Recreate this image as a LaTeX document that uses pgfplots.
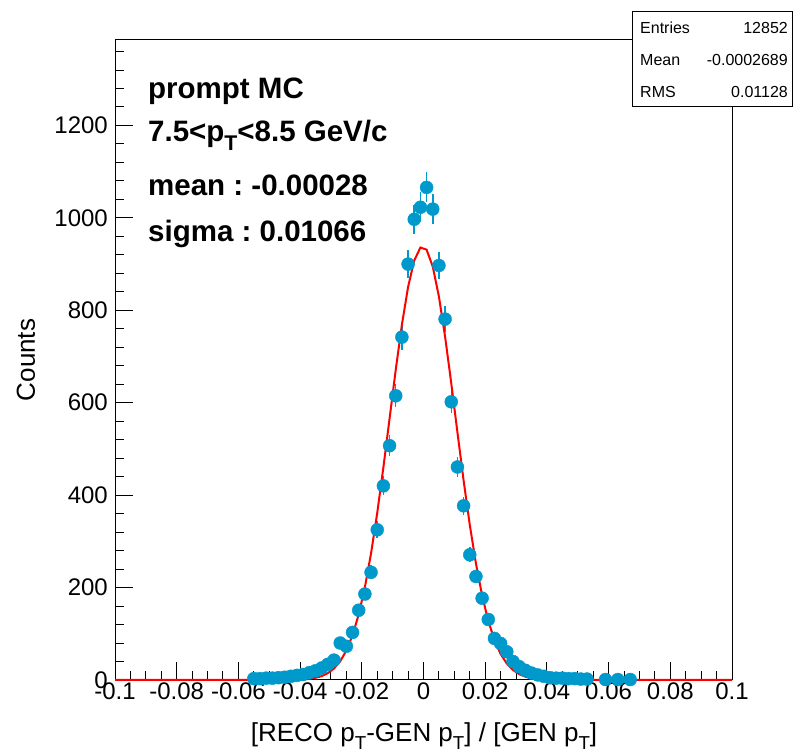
\documentclass[border=0pt]{standalone}
\usepackage{pgfplots}
\pgfplotsset{compat=1.18}
\usepackage{fontspec}
\setmainfont{Liberation Sans}
\definecolor{rootblue}{RGB}{0,153,204}
\newcommand{\subT}{\raisebox{-0.3em}{\scalebox{0.72}{T}}}
\frenchspacing

\pgfplotstableread{
x y err
-0.055 3 1.7
-0.053 3 1.7
-0.051 4 2.0
-0.049 4 2.0
-0.047 5 2.2
-0.045 6 2.4
-0.043 8 2.8
-0.041 10 3.2
-0.039 12 3.5
-0.037 16 4.0
-0.035 20 4.5
-0.033 26 5.1
-0.031 34 5.8
-0.029 43 6.6
-0.027 80 8.9
-0.025 73 8.5
-0.023 103 10.1
-0.021 151 12.3
-0.019 186 13.6
-0.017 233 15.3
-0.015 325 18.0
-0.013 420 20.5
-0.011 507 22.5
-0.009 615 24.8
-0.007 742 27.2
-0.005 900 30.0
-0.003 997 31.6
-0.001 1023 32.0
0.001 1066 32.6
0.003 1019 31.9
0.005 897 29.9
0.007 781 27.9
0.009 602 24.5
0.011 461 21.5
0.013 377 19.4
0.015 271 16.5
0.017 224 15.0
0.019 177 13.3
0.021 131 11.4
0.023 90 9.5
0.025 79 8.9
0.027 61 7.8
0.029 40 6.3
0.031 29 5.4
0.033 21 4.6
0.035 15 3.9
0.037 11 3.3
0.039 8 2.8
0.041 5 2.2
0.043 4 2.0
0.045 4 2.0
0.047 3 1.7
0.049 3 1.7
0.051 2 1.4
0.053 2 1.4
0.059 1 1.0
0.063 1 1.0
0.067 1 1.0
}\histdata

\pgfplotstableread{
x y
-0.100 0
-0.049 0
-0.047 0.03
-0.045 0.1
-0.043 0.3
-0.041 0.6
-0.039 1.3
-0.037 2.5
-0.035 4.7
-0.033 8.4
-0.031 14.8
-0.029 24.9
-0.027 40.5
-0.025 63.7
-0.023 96.8
-0.021 141.9
-0.019 200.7
-0.017 274.2
-0.015 361.5
-0.013 460.3
-0.011 565.7
-0.009 671.3
-0.007 769.0
-0.005 850.4
-0.003 907.9
-0.001 935.9
0.001 931.3
0.003 894.6
0.005 829.7
0.007 742.9
0.009 642.2
0.011 535.9
0.013 431.7
0.015 335.8
0.017 252.1
0.019 182.8
0.021 127.9
0.023 86.4
0.025 56.4
0.027 35.5
0.029 21.6
0.031 12.7
0.033 7.2
0.035 3.9
0.037 2.1
0.039 1.1
0.041 0.5
0.043 0.25
0.045 0.1
0.047 0.03
0.049 0
0.100 0
}\fitdata

\begin{document}
\begin{tikzpicture}[x=1pt,y=1pt]
\useasboundingbox (0,0) rectangle (793,751);
\begin{axis}[
  at={(115pt,71pt)}, anchor=south west,
  scale only axis, width=617pt, height=640pt,
  xmin=-0.1, xmax=0.1, ymin=0, ymax=1385,
  clip=false,
  axis line style={line width=1pt, black},
  tick align=inside, tick pos=left,
  major tick length=18pt, minor tick length=9pt,
  every tick/.style={black, line width=1pt},
  xtick={-0.1,-0.08,-0.06,-0.04,-0.02,0,0.02,0.04,0.06,0.08,0.1},
  xticklabels={-0.1,-0.08,-0.06,-0.04,-0.02,0,0.02,0.04,0.06,0.08,0.1},
  minor xtick={-0.095,-0.09,-0.085,-0.075,-0.07,-0.065,-0.055,-0.05,-0.045,-0.035,-0.03,-0.025,-0.015,-0.01,-0.005,0.005,0.01,0.015,0.025,0.03,0.035,0.045,0.05,0.055,0.065,0.07,0.075,0.085,0.09,0.095},
  ytick={0,200,400,600,800,1000,1200},
  yticklabels={0,200,400,600,800,1000,1200},
  minor ytick={40,80,120,160,240,280,320,360,440,480,520,560,640,680,720,760,840,880,920,960,1040,1080,1120,1160,1240,1280,1320,1360},
  xticklabel style={font=\fontsize{24}{28}\selectfont, inner sep=0pt, anchor=north, yshift=-3pt},
  yticklabel style={font=\fontsize{24}{28}\selectfont, inner sep=0pt, anchor=east, xshift=-7pt},
]
\addplot[only marks, mark=*, mark size=6.5pt, color=rootblue,
  mark options={draw=rootblue, fill=rootblue},
  error bars/.cd, y dir=both, y explicit,
  error bar style={line width=1.5pt, rootblue}, error mark=none]
  table[x=x, y=y, y error=err] {\histdata};
\addplot[red, line width=2pt, no marks] table[x=x, y=y] {\fitdata};
\end{axis}
% stats box
\draw[line width=1pt, fill=white] (632,644) rectangle (792.5,739);
\begin{scope}[every node/.style={inner sep=0pt, font=\fontsize{16}{19}\selectfont}]
\node[anchor=base west] at (640,717) {Entries};
\node[anchor=base east] at (788,717) {12852};
\node[anchor=base west] at (640,685) {Mean};
\node[anchor=base east] at (788,685) {-0.0002689};
\node[anchor=base west] at (640,653) {RMS};
\node[anchor=base east] at (788,653) {0.01128};
\end{scope}
% annotations
\begin{scope}[every node/.style={inner sep=0pt, anchor=base west, font=\fontsize{29.5}{34}\selectfont\bfseries}]
\node at (148,652) {prompt MC};
\node at (148,609) {7.5<p\subT<8.5 GeV/c};
\node at (148,555) {mean : -0.00028};
\node at (148,509) {sigma : 0.01066};
\end{scope}
% axis titles
\node[inner sep=0pt, anchor=base, font=\fontsize{26}{30}\selectfont] at (424,9) {[RECO p\subT-GEN p\subT] / [GEN p\subT]};
\node[inner sep=0pt, anchor=base, rotate=90, font=\fontsize{26}{30}\selectfont] at (35,391) {Counts};
\end{tikzpicture}
\end{document}
